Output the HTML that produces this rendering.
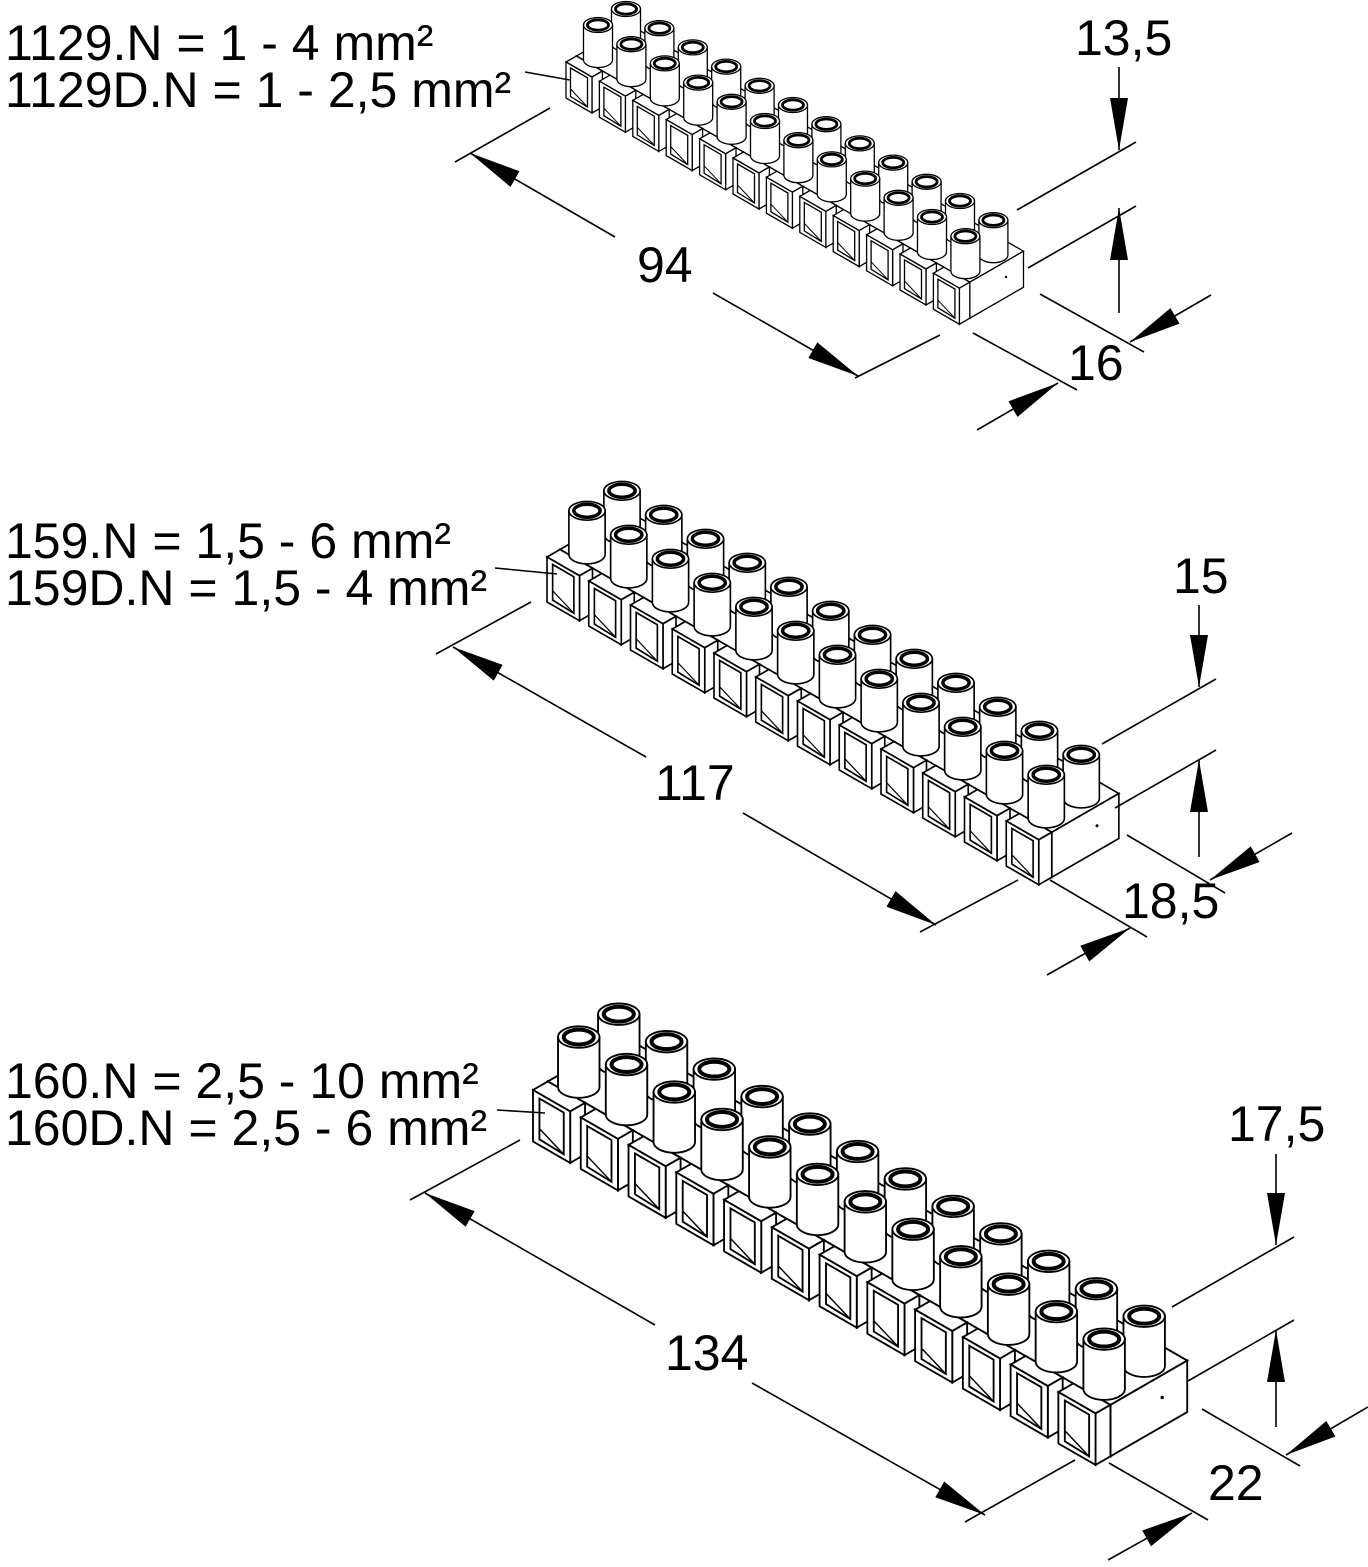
<!DOCTYPE html>
<html><head><meta charset="utf-8"><style>
html,body{margin:0;padding:0;background:#fff;}
svg{display:block;}
text{font-family:"Liberation Sans",sans-serif;fill:#000;}
</style></head><body>
<svg width="1368" height="1567" viewBox="0 0 1368 1567" xmlns="http://www.w3.org/2000/svg">
<defs>
<marker id="a" markerUnits="userSpaceOnUse" orient="auto" overflow="visible" refX="0" refY="0" markerWidth="1" markerHeight="1">
<path d="M0,0 L-52,-9 L-52,9Z" fill="#000"/>
</marker>
<g id="cyl">
<path d="M-14.5,-35 L-14.5,0 A14.5,7.5 0 0 0 14.5,0 L14.5,-35 Z" fill="#fff" stroke="#000" stroke-width="1.3"/>
<ellipse cx="0" cy="-35" rx="14.5" ry="7.5" fill="#fff" stroke="#000" stroke-width="1.3"/>
<ellipse cx="0" cy="-35" rx="10.5" ry="5.2" fill="#fff" stroke="#000" stroke-width="2.8"/>
</g>
<g id="u">
<use href="#cyl" x="60" y="-18"/>
<polygon points="0,0 26,15 36.4,9 10.4,-6" fill="#fff" stroke="#000" stroke-width="1.3"/>
<polygon points="26,15 36.4,9 36.4,45 26,51" fill="#fff" stroke="#000" stroke-width="1.3"/>
<polygon points="0,0 26,15 26,51 0,36" fill="#fff" stroke="#000" stroke-width="1.3"/>
<polygon points="4.5,6 21.5,15.8 21.5,45 4.5,34.5" fill="#fff" stroke="#000" stroke-width="1.3"/>
<path d="M4.5,27 L21.5,45" stroke="#000" stroke-width="1" fill="none"/>
<use href="#cyl" x="32" y="-2"/>
</g>
<g id="body">
<polygon points="10.4,-6 403.8,220.2 457.5,189.2 64.1,-37" fill="#fff" stroke="#000" stroke-width="1.3"/>
<polygon points="403.8,220.2 457.5,189.2 457.5,225.2 403.8,256.2" fill="#fff" stroke="#000" stroke-width="1.3"/>
<polygon points="10.4,-6 403.8,220.2 403.8,256.2 10.4,30" fill="#fff" stroke="#000" stroke-width="1.3"/>
<circle cx="440" cy="215" r="1.2" fill="#000"/>
</g>
<g id="blk">
<use href="#body"/>
<use href="#u" x="0" y="0"/>
<use href="#u" x="33.4" y="19.2"/>
<use href="#u" x="66.8" y="38.4"/>
<use href="#u" x="100.2" y="57.6"/>
<use href="#u" x="133.6" y="76.8"/>
<use href="#u" x="167" y="96"/>
<use href="#u" x="200.4" y="115.2"/>
<use href="#u" x="233.8" y="134.4"/>
<use href="#u" x="267.2" y="153.6"/>
<use href="#u" x="300.6" y="172.8"/>
<use href="#u" x="334" y="192"/>
<use href="#u" x="367.4" y="211.2"/>
</g>
</defs>

<use href="#blk" transform="translate(566,62)"/>
<use href="#blk" transform="translate(547,557) scale(1.25)"/>
<use href="#blk" transform="translate(533,1090) scale(1.43)"/>

<g stroke="#000" stroke-width="1.6" fill="none">
<line x1="525" y1="72" x2="570" y2="80"/>
<line x1="455" y1="162" x2="550" y2="108"/>
<line x1="855" y1="378" x2="940" y2="335"/>
<line x1="615" y1="237" x2="470" y2="153" marker-end="url(#a)"/>
<line x1="713" y1="293" x2="858" y2="376" marker-end="url(#a)"/>
<line x1="1017" y1="210" x2="1136" y2="142"/>
<line x1="1028" y1="268" x2="1136" y2="206"/>
<line x1="1040" y1="294" x2="1144" y2="352"/>
<line x1="973" y1="333" x2="1077" y2="390"/>
<line x1="977" y1="430" x2="1058" y2="383" marker-end="url(#a)"/>
<line x1="1211" y1="295" x2="1130" y2="342" marker-end="url(#a)"/>
<line x1="1119" y1="67" x2="1119" y2="150" marker-end="url(#a)"/>
<line x1="1119" y1="313" x2="1119" y2="208" marker-end="url(#a)"/>
<line x1="495" y1="568" x2="557" y2="574"/>
<line x1="436" y1="654" x2="531" y2="602"/>
<line x1="920" y1="932" x2="1018" y2="880"/>
<line x1="646" y1="757" x2="453" y2="647" marker-end="url(#a)"/>
<line x1="743" y1="813" x2="936" y2="925" marker-end="url(#a)"/>
<line x1="1050" y1="880" x2="1147" y2="937"/>
<line x1="1127" y1="835" x2="1225" y2="893"/>
<line x1="1047" y1="975" x2="1130" y2="928" marker-end="url(#a)"/>
<line x1="1292" y1="833" x2="1210" y2="880" marker-end="url(#a)"/>
<line x1="1102" y1="744" x2="1216" y2="679"/>
<line x1="1115" y1="808" x2="1216" y2="750"/>
<line x1="1199" y1="605" x2="1199" y2="687" marker-end="url(#a)"/>
<line x1="1199" y1="857" x2="1199" y2="760" marker-end="url(#a)"/>
<line x1="497" y1="1110" x2="545" y2="1113"/>
<line x1="410" y1="1200" x2="520" y2="1140"/>
<line x1="965" y1="1522" x2="1075" y2="1460"/>
<line x1="655" y1="1325" x2="425" y2="1193" marker-end="url(#a)"/>
<line x1="752" y1="1383" x2="985" y2="1515" marker-end="url(#a)"/>
<line x1="1109" y1="1463" x2="1208" y2="1520"/>
<line x1="1202" y1="1409" x2="1300" y2="1466"/>
<line x1="1108" y1="1560" x2="1192" y2="1513" marker-end="url(#a)"/>
<line x1="1368" y1="1407" x2="1286" y2="1455" marker-end="url(#a)"/>
<line x1="1172" y1="1307" x2="1294" y2="1237"/>
<line x1="1188" y1="1381" x2="1294" y2="1320"/>
<line x1="1276" y1="1154" x2="1276" y2="1245" marker-end="url(#a)"/>
<line x1="1276" y1="1427" x2="1276" y2="1330" marker-end="url(#a)"/>
</g>

<g font-size="50">
<text x="5" y="60">1129.N = 1 - 4 mm²</text>
<text x="5" y="107">1129D.N = 1 - 2,5 mm²</text>
<text x="5" y="558">159.N = 1,5 - 6 mm²</text>
<text x="5" y="605">159D.N = 1,5 - 4 mm²</text>
<text x="5" y="1098">160.N = 2,5 - 10 mm²</text>
<text x="5" y="1145">160D.N = 2,5 - 6 mm²</text>
<text x="1075" y="55">13,5</text>
<text x="1068" y="380">16</text>
<text x="637" y="282">94</text>
<text x="1173" y="593">15</text>
<text x="1122" y="918">18,5</text>
<text x="655" y="800">117</text>
<text x="1228" y="1141">17,5</text>
<text x="1208" y="1500">22</text>
<text x="665" y="1370">134</text>
</g>
</svg>
</body></html>
